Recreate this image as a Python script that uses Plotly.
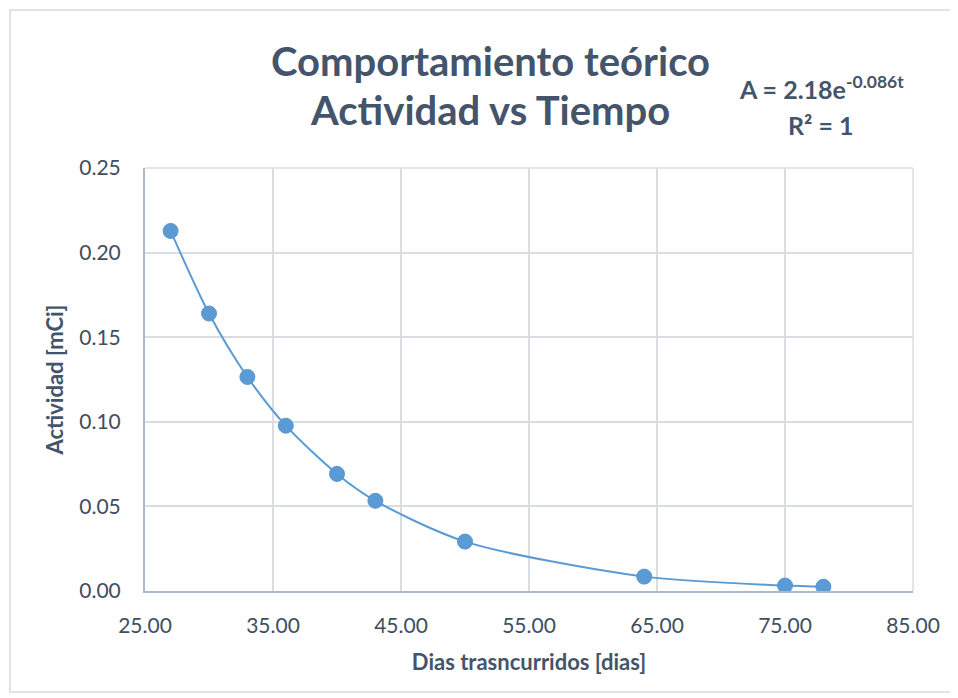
import plotly.graph_objects as go

dias = [27, 30, 33, 36, 40, 43, 50, 64, 75, 78]
actividad = [0.2128, 0.1640, 0.1265, 0.0977, 0.0692, 0.0533, 0.0292, 0.0085, 0.0032, 0.0025]
x_ticks = [25, 35, 45, 55, 65, 75, 85]
y_ticks = [0, 0.05, 0.10, 0.15, 0.20, 0.25]

FONT = "Lato, Open Sans, sans-serif"
DARK = "#44546A"
TICK = "#404d5f"
BLUE = "#5B9BD5"

OFF = 8  # page body margin offset
W, H = 958 - OFF, 698 - OFF
L, R, T, B = 145 - OFF, 958 - 913, 168 - OFF, 698 - 591
pw, ph = W - L - R, H - T - B

def px(xp):
    return (xp - OFF - L) / pw

def py(yp):
    return 1 - (yp - OFF - T) / ph

fig = go.Figure()
fig.add_trace(go.Scatter(
    x=dias, y=actividad, mode="lines",
    line=dict(color=BLUE, width=2, shape="spline", smoothing=0.8),
    hoverinfo="skip", showlegend=False))
fig.add_trace(go.Scatter(
    x=dias, y=actividad, mode="markers",
    marker=dict(color=BLUE, size=15, line=dict(color="#5A96CE", width=1)),
    showlegend=False))

fig.update_layout(
    width=W, height=H,
    margin=dict(l=L, r=R, t=T, b=B),
    paper_bgcolor="white", plot_bgcolor="white",
    font=dict(family=FONT, color=TICK),
    xaxis=dict(range=[25, 85], tickvals=x_ticks,
               ticktext=[f"{v:.2f}" for v in x_ticks],
               showgrid=True, gridcolor="#D9DDE3", gridwidth=1.5,
               showline=True, linecolor="#ADB9CA", linewidth=2,
               zeroline=False, ticks="", ticklabelstandoff=15,
               tickfont=dict(size=21, color=TICK),
               title=dict(text="<b>Dias trasncurridos [dias]</b>", standoff=18,
                          font=dict(size=22, color=DARK))),
    yaxis=dict(range=[0, 0.25], tickvals=y_ticks,
               ticktext=[f"{v:.2f}" for v in y_ticks],
               showgrid=True, gridcolor="#D9DDE3", gridwidth=1.5,
               showline=True, linecolor="#ADB9CA", linewidth=2,
               zeroline=False, ticks="", ticklabelstandoff=18,
               tickfont=dict(size=21, color=TICK),
               title=dict(text="<b>Actividad [mCi]</b>", standoff=10,
                          font=dict(size=22, color=DARK))),
)

# top and right grid borders
fig.add_shape(type="line", xref="paper", yref="paper", x0=0, x1=1, y0=1, y1=1,
              line=dict(color="#D9DDE3", width=1.5))
fig.add_shape(type="line", xref="paper", yref="paper", x0=1, x1=1, y0=0, y1=1,
              line=dict(color="#D9DDE3", width=1.5))

# chart border
fig.add_shape(type="rect", xref="paper", yref="paper",
              x0=px(10), x1=px(953), y0=py(10), y1=py(692),
              line=dict(color="#D9D9D9", width=1.5), layer="below")

def note(text, xp, yp, size):
    fig.add_annotation(xref="paper", yref="paper", x=px(xp), y=py(yp),
                       xanchor="center", yanchor="middle",
                       text=text, showarrow=False,
                       font=dict(size=size, color=DARK, family=FONT))

note("<b>Comportamiento teórico</b>", 490, 61, 40)
note("<b>Actividad vs Tiempo</b>", 490, 110, 40)
note("<b>A = 2.18e<sup>-0.086t</sup></b>", 821, 87, 25)
note("<b>R² = 1</b>", 821, 125, 25)

fig.write_html("out.html")
